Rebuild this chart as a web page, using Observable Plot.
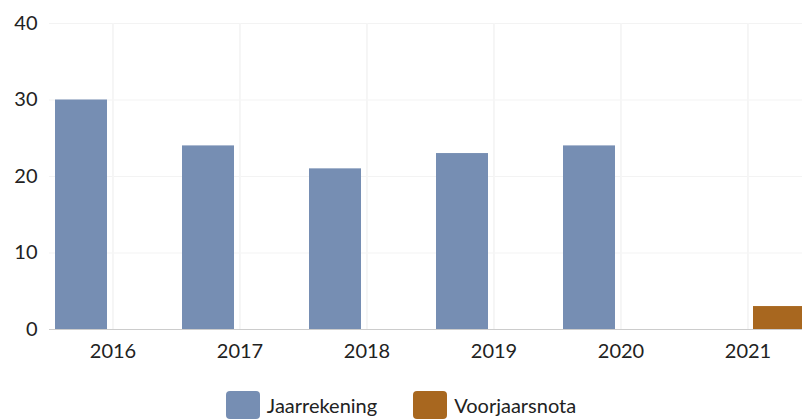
<!DOCTYPE html>
<html><head><meta charset="utf-8">
<script src="https://cdn.jsdelivr.net/npm/d3@7"></script>
<script src="https://cdn.jsdelivr.net/npm/@observablehq/plot@0.6"></script>
<style>
html,body{margin:0;padding:0;background:#fff;overflow:hidden;width:802px;height:419px;}
#chart{width:802px;height:375px;overflow:hidden;}
#chart svg{max-width:none !important;display:block;}
.legend{display:flex;justify-content:center;gap:36px;font-family:Lato,sans-serif;font-size:20px;color:#222;margin-top:16px;width:802px;}
.legend .item{display:flex;align-items:center;gap:7px;}
.legend .sw{width:34px;height:28px;border-radius:4px;display:inline-block;}
</style></head>
<body>
<div id="chart"></div>
<div class="legend" id="legend"></div>
<script>
const years = ["2016","2017","2018","2019","2020","2021"];
const series = ["Jaarrekening","Voorjaarsnota"];
const jaarrekening = [30,24,21,23,24,null];
const voorjaarsnota = [null,null,null,null,null,3];
const colors = ["#768eb3","#a8671f"];
const yTicks = [0,10,20,30,40];

const data = [];
years.forEach((y,i)=>{
  if (jaarrekening[i] != null) data.push({year:y, series:series[0], value:jaarrekening[i]});
  if (voorjaarsnota[i] != null) data.push({year:y, series:series[1], value:voorjaarsnota[i]});
});

const plot = Plot.plot({
  width: 812,
  height: 375,
  marginLeft: 47,
  marginRight: 0,
  marginTop: 23,
  marginBottom: 46,
  style: {fontFamily: "Lato, sans-serif", fontSize: "20px", color: "#222", background: "#fff", maxWidth: "none"},
  fx: {domain: years, padding: 0, label: null, tickSize: 0, tickPadding: 14},
  x: {domain: series, axis: null, paddingInner: 0.17, paddingOuter: 0.08},
  y: {domain: [0,40], ticks: yTicks, label: null, tickSize: 0, tickPadding: 12},
  color: {domain: series, range: colors},
  marks: [
    Plot.gridY(yTicks, {stroke: "#f3f3f3", strokeOpacity: 1}),
    Plot.gridFx(years, {stroke: "#f5f5f5", strokeOpacity: 1}),
    Plot.barY(data, {fx: "year", x: "series", y: "value", fill: "series"}),
    Plot.ruleY([0], {stroke: "#ccc"})
  ]
});
document.getElementById("chart").appendChild(plot);

const lg = document.getElementById("legend");
series.forEach((s,i)=>{
  const it = document.createElement("div"); it.className="item";
  const sw = document.createElement("span"); sw.className="sw"; sw.style.background=colors[i];
  const t = document.createElement("span"); t.textContent = s;
  it.appendChild(sw); it.appendChild(t); lg.appendChild(it);
});
</script>
</body></html>
